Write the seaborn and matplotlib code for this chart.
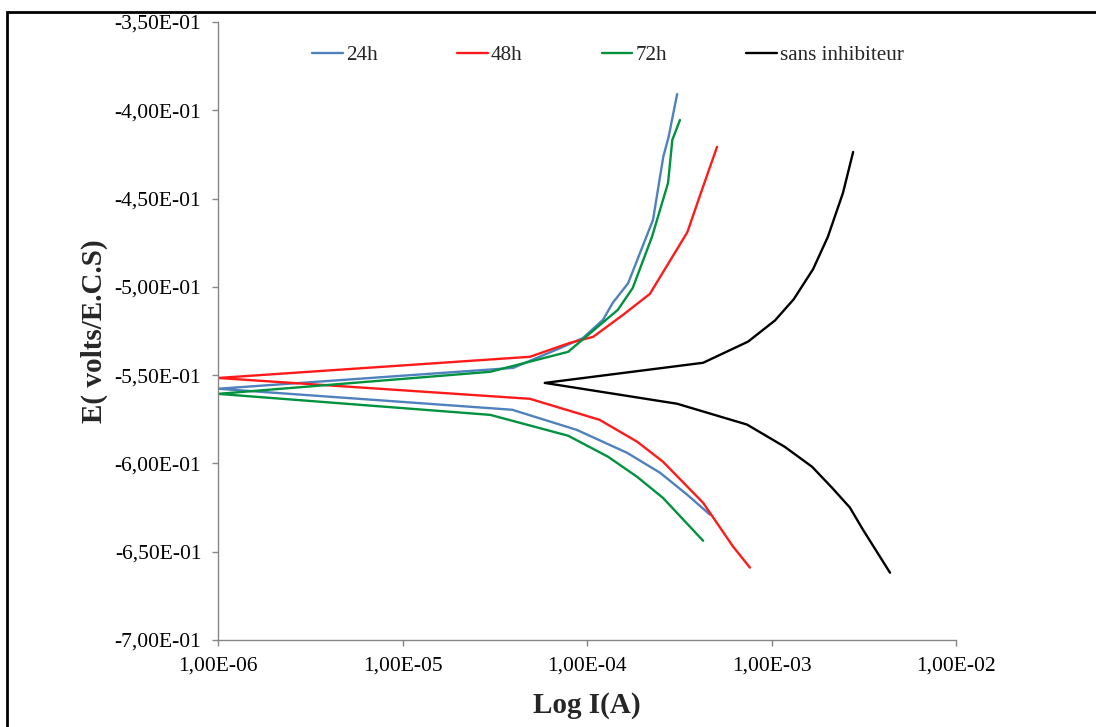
import numpy as np
import pandas as pd
import matplotlib
matplotlib.use("Agg")
import matplotlib.pyplot as plt
import seaborn as sns
from matplotlib.ticker import FuncFormatter, FixedLocator, NullLocator
from matplotlib.patches import Rectangle

# Current (A) and potential (V), ordered by potential
i_24h = [4.64e-4, 3.5e-4, 2.49e-4, 1.65e-4, 8.8e-5, 3.93e-5, 1.0e-6,
         3.98e-5, 7.41e-5, 9.5e-5, 1.22e-4, 1.38e-4, 1.67e-4, 2.28e-4, 2.59e-4, 2.77e-4, 3.08e-4]
e_24h = [-0.629, -0.6178, -0.6053, -0.594, -0.581, -0.5696, -0.5577,
         -0.5459, -0.534, -0.529, -0.5187, -0.509, -0.498, -0.462, -0.4264, -0.415, -0.3908]

i_48h = [7.64e-4, 6.18e-4, 4.26e-4, 2.58e-4, 1.87e-4, 1.17e-4, 4.9e-5, 1.0e-6,
         4.91e-5, 8.09e-5, 1.08e-4, 1.57e-4, 2.19e-4, 2.99e-4, 3.5e-4, 4.2e-4, 5.07e-4]
e_48h = [-0.659, -0.647, -0.6223, -0.599, -0.5877, -0.5753, -0.5634, -0.5516,
         -0.5396, -0.5317, -0.5283, -0.5158, -0.504, -0.4808, -0.469, -0.445, -0.4207]

i_72h = [4.26e-4, 2.58e-4, 1.87e-4, 1.3e-4, 7.9e-5, 2.99e-5, 1.0e-6,
         2.99e-5, 7.9e-5, 1.47e-4, 1.77e-4, 2.25e-4, 2.75e-4, 2.9e-4, 3.19e-4]
e_72h = [-0.6438, -0.6195, -0.6076, -0.5962, -0.5843, -0.5725, -0.5606,
         -0.5481, -0.5368, -0.513, -0.5006, -0.4717, -0.4411, -0.4168, -0.4055]

i_blank = [4.39e-3, 3.13e-3, 2.66e-3, 2.13e-3, 1.66e-3, 1.18e-3, 7.37e-4, 3.08e-4, 5.9e-5,
           4.26e-4, 7.47e-4, 1.045e-3, 1.32e-3, 1.68e-3, 2.02e-3, 2.44e-3, 2.77e-3]
e_blank = [-0.6619, -0.6375, -0.625, -0.6138, -0.6019, -0.5906, -0.578, -0.5662, -0.5544,
           -0.543, -0.531, -0.519, -0.507, -0.490, -0.4717, -0.4468, -0.4236]

series_names = ["24h", "48h", "72h", "sans inhibiteur"]
colors = ["#4F81BD", "#FF1A1A", "#00923F", "#000000"]

frames = []
for name, i_vals, e_vals in zip(series_names,
                                [i_24h, i_48h, i_72h, i_blank],
                                [e_24h, e_48h, e_72h, e_blank]):
    frames.append(pd.DataFrame({"I": i_vals, "E": e_vals, "serie": name}))
df = pd.concat(frames, ignore_index=True)

sns.set_style("white")
plt.rcParams["font.family"] = ["Liberation Serif", "DejaVu Serif"]

fig = plt.figure(figsize=(10.96, 7.27), dpi=100)
ax = fig.add_axes([218 / 1096, 1 - 640 / 727, (956 - 218) / 1096, (640 - 22) / 727])

sns.lineplot(data=df, x="I", y="E", hue="serie", hue_order=series_names,
             palette=colors, sort=False, estimator=None, linewidth=1.7, ax=ax,
             legend=False)

ax.set_xscale("log")
ax.set_xlim(1e-6, 1e-2)
ax.set_ylim(-0.70, -0.35)

axis_grey = "#868686"
for side in ["top", "right"]:
    ax.spines[side].set_visible(False)
for side in ["left", "bottom"]:
    ax.spines[side].set_color(axis_grey)
    ax.spines[side].set_linewidth(1.0)

ax.xaxis.set_major_locator(FixedLocator([1e-6, 1e-5, 1e-4, 1e-3, 1e-2]))
ax.xaxis.set_minor_locator(NullLocator())
ax.yaxis.set_major_locator(FixedLocator(np.arange(-0.70, -0.349, 0.05)))
fmt = FuncFormatter(lambda v, p: f"{v:.2E}".replace(".", ","))
ax.xaxis.set_major_formatter(fmt)
ax.yaxis.set_major_formatter(fmt)
ax.tick_params(axis="both", which="major", bottom=True, left=True, direction="out",
               length=4, width=1.0, color=axis_grey, labelcolor="black", labelsize=15.5)
ax.tick_params(axis="x", pad=8)
ax.tick_params(axis="y", pad=8)

ax.set_xlabel("Log I(A)", fontsize=21, fontweight="bold", labelpad=12)
ax.set_ylabel("E( volts/E.C.S)", fontsize=21, fontweight="bold", labelpad=5)

handles = [plt.Line2D([], [], color=c, linewidth=1.7) for c in colors]
fig.legend(handles, series_names, loc="center", bbox_to_anchor=(608 / 1096, 1 - 55 / 727),
           ncol=4, frameon=False, fontsize=15.2, handlelength=1.45, handletextpad=0.15,
           columnspacing=3.75)

fig.patches.append(Rectangle((7 / 1096, -0.02), 1.05, 0.02 + (1 - 12 / 727),
                             transform=fig.transFigure, fill=False,
                             edgecolor="black", linewidth=2.0))

fig.savefig("out.png", dpi=100, facecolor="white")
